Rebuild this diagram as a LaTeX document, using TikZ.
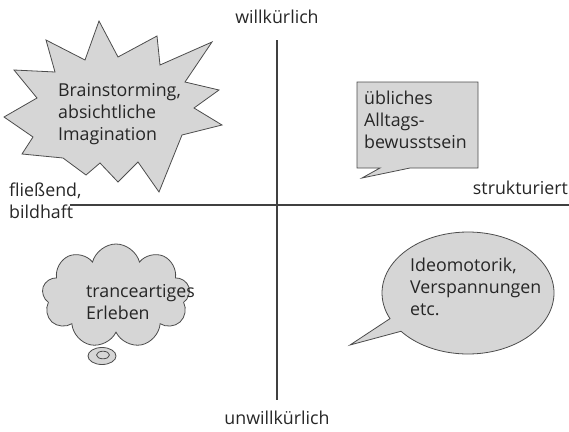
\documentclass[tikz,border=0pt]{standalone}
\usepackage{fontspec}
\setmainfont{Open Sans}
\usetikzlibrary{positioning, shapes.symbols, shapes.callouts}

\tikzset{
	bubble/.style={draw=black!70, fill=black!16, line width=0.8pt},
	axisline/.style={draw=black!75, line width=1.3pt},
	caption/.style={font=\fontsize{17.8}{22}\selectfont, text=black!85, inner sep=0pt, align=left},
}

\begin{document}
\begin{tikzpicture}
		[x=1pt, y=-1pt]
		\useasboundingbox (0,0) rectangle (569,431);
		% axes
		\coordinate (left) at (70,205);
		\coordinate (right) at (569,205);
		\coordinate (top) at (277,40);
		\coordinate (bottom) at (277,400);
		\draw[axisline] (left) -- (right);
		\draw[axisline] (top) -- (bottom);
	
		% star
		\draw[bubble] (99,21) -- (118,57) -- (157,36) -- (160,65) -- (212,42)
			-- (185,82) -- (219,90) -- (194,108) -- (222,125) -- (182,135)
			-- (159,192) -- (138,162) -- (118,182) -- (100,163) -- (86,175)
			-- (63,158) -- (22,154) -- (33,137) -- (4,117) -- (37,98)
			-- (14,70) -- (55,72) -- (46,40) -- (85,60) -- cycle;
		% rectangle callout
		\draw[bubble] (357,82) -- (478,82) -- (478,168) -- (410,168)
			-- (362,178) -- (380,168) -- (357,168) -- cycle;
		% cloud
		\node (cloud) [bubble, cloud, cloud puffs=9, aspect=1.4,
			minimum width=148, minimum height=104] at (116,296) {};
		\draw[bubble] (102,356) ellipse [x radius=14, y radius=8.5];
		\draw[bubble] (103,355) ellipse [x radius=6.5, y radius=3.8];
		% ellipse callout
		\node (oval) [bubble, ellipse callout, minimum width=172, minimum height=122,
			callout absolute pointer={(350,345)}, callout pointer arc=14] at (468,293) {};
	
		\node[caption, anchor=west] (burst) at (58,114) {Brainstorming,\\absichtliche\\Imagination};
		\node[caption, anchor=west] (daily) at (364,120) {übliches\\Alltags-\\bewusstsein};
		\node[caption, anchor=west] (trance) at (86,302) {tranceartiges\\Erleben};
		\node[caption, anchor=west] (ideo) at (410,287) {Ideomotorik,\\Verspannungen\\etc.};
	
		\node[caption] (will) at (277,17) {willkürlich};
		\node[caption] (unwill) at (277,418) {unwillkürlich};
		\node[caption, anchor=west] (fluid) at (9,201) {fließend,\\bildhaft};
		\node[caption, anchor=east] (struct) at (568,188) {strukturiert};
	\end{tikzpicture}
\end{document}
